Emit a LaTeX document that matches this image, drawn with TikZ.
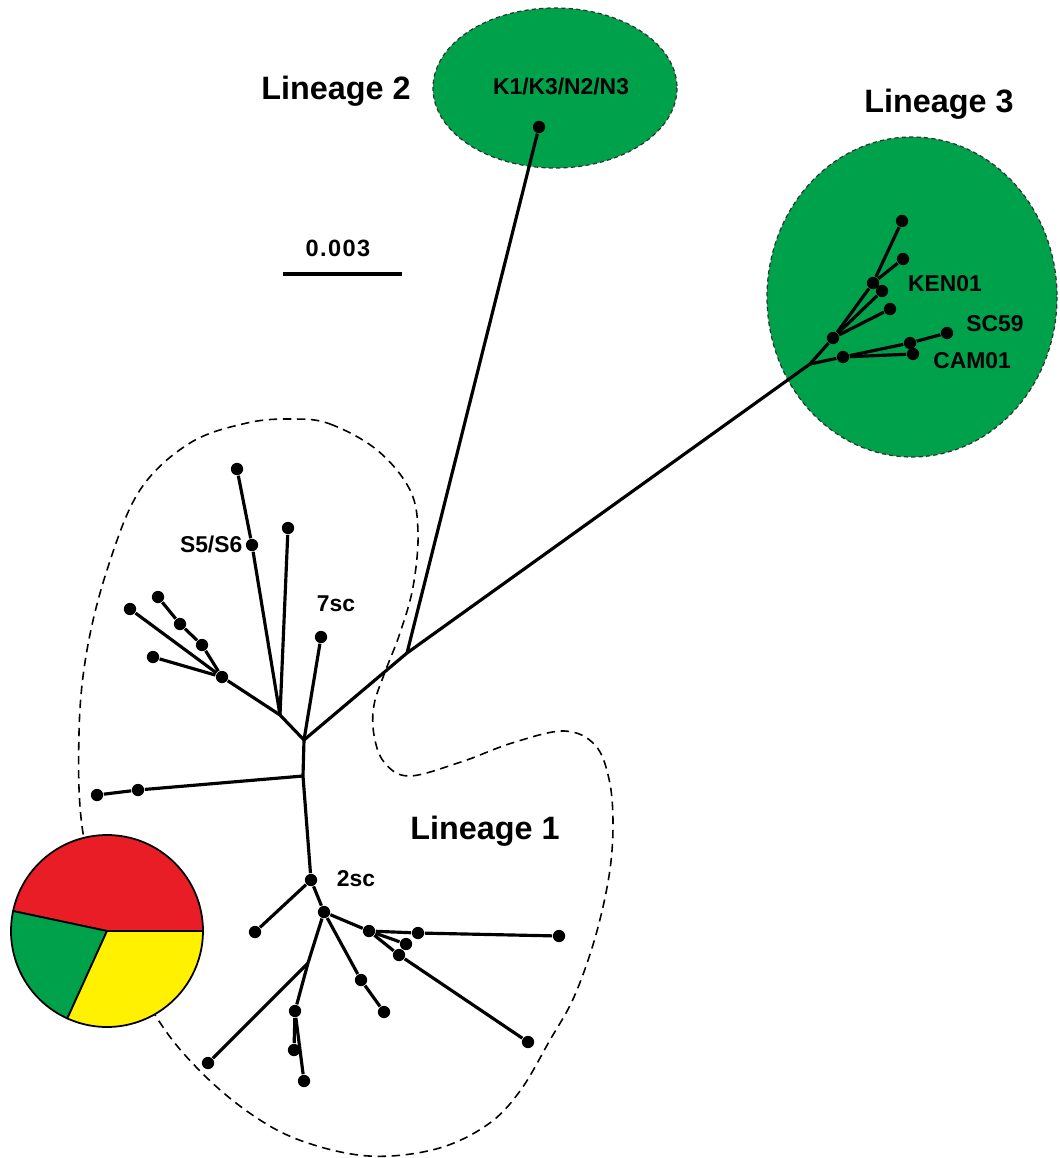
\documentclass[tikz,border=0pt]{standalone}
\usepackage{fontspec}
\setmainfont{Liberation Sans}
\definecolor{lgreen}{HTML}{00A14B}
\definecolor{pred}{HTML}{E91D25}
\definecolor{pyellow}{HTML}{FFF100}
\begin{document}
\begin{tikzpicture}[x=0.01cm,y=-0.01cm,
  branch/.style={line width=0.9pt},
  dot/.style={circle,fill=black,inner sep=0pt,minimum size=3.5pt},
  lin/.style={font=\bfseries\fontsize{9.2pt}{10pt}\selectfont,anchor=base,inner sep=0pt},
  lab/.style={font=\bfseries\fontsize{6.5pt}{8pt}\selectfont,anchor=base,inner sep=0pt},
  group/.style={fill=lgreen,draw=black!80,line width=0.35pt,dash pattern=on 1.2pt off 0.9pt},
  outline/.style={draw=black,line width=0.45pt,dash pattern=on 2.4pt off 1.6pt},
  wedge/.style={draw=black,line width=0.5pt,line join=round}]
\useasboundingbox (0,0) rectangle (1059,1158);

% ---- lineage 1 outline ----
\draw[outline] plot[smooth cycle, tension=0.6] coordinates {
 (293,419) (330,424) (377,450) (410,490) (418,533) (413,587) (400,633)
 (385,672) (374,705) (374,735) (384,762) (409,776) (461,762) (512,743)
 (564,731) (595,745) (609,779) (613,824) (609,876) (595,938) (574,997)
 (550,1040) (520,1091) (487,1125) (436,1149) (369,1156) (302,1141)
 (251,1114) (200,1071) (157,1018) (110,930) (83,833) (79,733) (87,650)
 (108,567) (140,490) (190,443) (247,423)};

% ---- green groups ----
\path[group] (555,88) ellipse [x radius=122, y radius=80];
\path[group] (912,297) ellipse [x radius=145, y radius=160];

% ---- pie chart ----
\coordinate (pc) at (107,931);
\filldraw[wedge,fill=pred] (pc) -- ++(0:96) arc[start angle=0,end angle=-168,radius=96] -- cycle;
\filldraw[wedge,fill=lgreen] (pc) -- ++(-168:96) arc[start angle=-168,end angle=-245.6,radius=96] -- cycle;
\filldraw[wedge,fill=pyellow] (pc) -- ++(-245.6:96) arc[start angle=-245.6,end angle=-360,radius=96] -- cycle;

% ---- lineage 1 tree ----
\coordinate (R) at (304,740);
\coordinate (J1) at (280,715);
\coordinate (Jm) at (407,653);
\coordinate (Jd) at (303,776);
\coordinate (JG) at (308,963);
\node[dot] (dS5) at (252,545) {};
\node[dot] (t1) at (237,469) {};
\node[dot] (t2) at (288,528) {};
\node[dot] (dA) at (222,677) {};
\node[dot] (tA1) at (130,609) {};
\node[dot] (dA2) at (202,645) {};
\node[dot] (dA3) at (180,624) {};
\node[dot] (tA4) at (158,597) {};
\node[dot] (tA5) at (153,657) {};
\node[dot] (t7) at (321,637) {};
\node[dot] (dB) at (138,790) {};
\node[dot] (tB) at (97,795) {};
\node[dot] (d2) at (311,880) {};
\node[dot] (tC) at (255,932) {};
\node[dot] (dD) at (324,912) {};
\node[dot] (dE) at (369,931) {};
\node[dot] (dE1) at (418,933) {};
\node[dot] (tE1) at (559,936) {};
\node[dot] (dE2) at (406,944) {};
\node[dot] (dE3) at (399,955) {};
\node[dot] (tE3) at (528,1042) {};
\node[dot] (dF) at (361,980) {};
\node[dot] (tF) at (384,1012) {};
\node[dot] (dG) at (295,1011) {};
\node[dot] (tG) at (208,1063) {};
\node[dot] (dG1) at (294,1050) {};
\node[dot] (tG2) at (304,1081) {};

\draw[branch] (R) -- (J1);
\draw[branch] (J1) -- (dS5) -- (t1);
\draw[branch] (J1) -- (t2);
\draw[branch] (J1) -- (dA);
\draw[branch] (dA) -- (tA1);
\draw[branch] (dA) -- (dA2) -- (dA3) -- (tA4);
\draw[branch] (dA) -- (tA5);
\draw[branch] (R) -- (t7);
\draw[branch] (R) -- (Jm);
\draw[branch] (R) -- (Jd);
\draw[branch] (Jd) -- (dB) -- (tB);
\draw[branch] (Jd) -- (d2);
\draw[branch] (d2) -- (tC);
\draw[branch] (d2) -- (dD);
\draw[branch] (dD) -- (dE);
\draw[branch] (dE) -- (dE1) -- (tE1);
\draw[branch] (dE) -- (dE2);
\draw[branch] (dE) -- (dE3) -- (tE3);
\draw[branch] (dD) -- (dF) -- (tF);
\draw[branch] (dD) -- (JG);
\draw[branch] (JG) -- (dG);
\draw[branch] (JG) -- (tG);
\draw[branch] (dG) -- (dG1);
\draw[branch] (dG) -- (tG2);

% ---- lineage 2 ----
\node[dot] (L2) at (539,127) {};
\draw[branch] (Jm) -- (L2);

% ---- lineage 3 tree ----
\coordinate (J3) at (810,364);
\node[dot] (B3) at (833,338) {};
\node[dot] (A3) at (873,283) {};
\node[dot] (t31) at (902,221) {};
\node[dot] (t32) at (903,259) {};
\node[dot] (d3a) at (882,291) {};
\node[dot] (d3b) at (890,309) {};
\node[dot] (C3) at (843,357) {};
\node[dot] (C31) at (910,343) {};
\node[dot] (tSC) at (947,333) {};
\node[dot] (tCAM) at (913,354) {};
\draw[branch] (Jm) -- (J3);
\draw[branch] (J3) -- (B3);
\draw[branch] (B3) -- (A3) -- (t31);
\draw[branch] (A3) -- (t32);
\draw[branch] (B3) -- (d3a);
\draw[branch] (B3) -- (d3b);
\draw[branch] (J3) -- (C3);
\draw[branch] (C3) -- (C31) -- (tSC);
\draw[branch] (C3) -- (tCAM);

% ---- scale bar ----
\coordinate (sb1) at (283,274);
\coordinate (sb2) at (402,274);
\draw[line width=0.9pt] (sb1) -- (sb2);
\node[lab,font=\bfseries\fontsize{6.7pt}{8pt}\selectfont\addfontfeature{LetterSpace=6}] (sbl) at (338,257) {0.003};

% ---- labels ----
\node[lin] (ln2) at (336,100) {Lineage 2};
\node[lin] (ln3) at (939,113) {Lineage 3};
\node[lin] (ln1) at (485,839) {Lineage 1};
\node[lab] (k1) at (561,95) {K1/K3/N2/N3};
\node[lab] (ken) at (945,292) {KEN01};
\node[lab] (sc59) at (995,332) {SC59};
\node[lab] (cam) at (972,368) {CAM01};
\node[lab,anchor=base east] (s5) at (243,552) {S5/S6};
\node[lab] (l7) at (336,611) {7sc};
\node[lab] (l2sc) at (356,886) {2sc};
\end{tikzpicture}
\end{document}
